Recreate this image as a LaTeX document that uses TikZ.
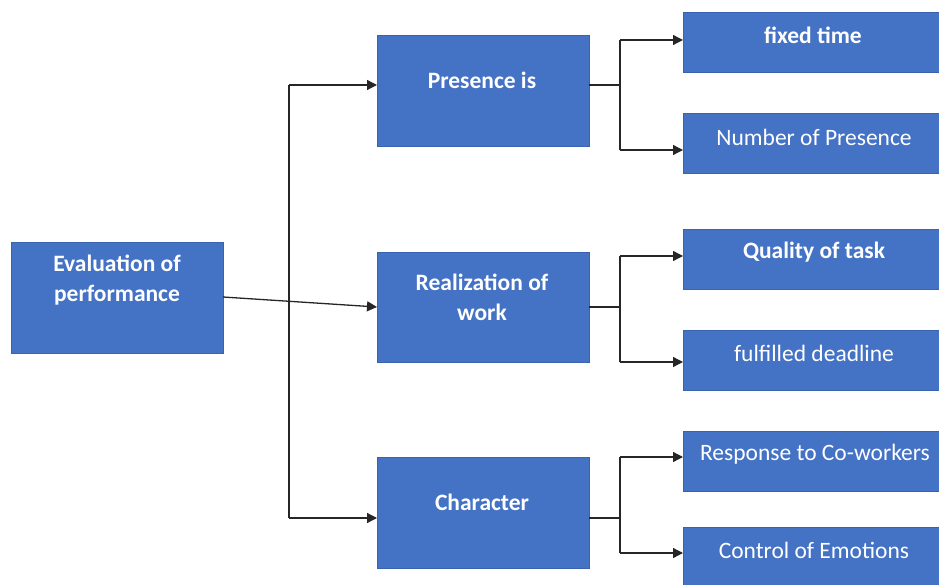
\documentclass[tikz,border=0pt]{standalone}
\usepackage{fontspec}
\setmainfont{Carlito}
\usetikzlibrary{arrows.meta}
\begin{document}
\begin{tikzpicture}[x=1pt,y=-1pt,
  box/.style={draw=boxedge,fill=boxfill,line width=0.8pt,inner sep=0pt},
  txt/.style={text=white,font=\fontsize{23.5}{30}\selectfont\bfseries,align=center,inner sep=0pt},
  txtr/.style={text=white,font=\fontsize{23.5}{30}\selectfont,align=center,inner sep=0pt},
  conn/.style={line width=1.3pt,draw=black!85},
  arr/.style={conn,-{Triangle[length=10pt,width=10pt]}}]
\definecolor{boxfill}{HTML}{4472C4}
\definecolor{boxedge}{HTML}{3A63AE}
\useasboundingbox (0,0) rectangle (939,585);
% boxes
\path[box] (11,242) rectangle (223,353) node[midway] (eval) {};
\path[box] (377,35) rectangle (589,146) node[midway] (pres) {};
\path[box] (377,252) rectangle (589,362) node[midway] (real) {};
\path[box] (377,457) rectangle (589,568) node[midway] (char) {};
\path[box] (683,12) rectangle (939,72) node[midway] (fix) {};
\path[box] (683,113) rectangle (939,173) node[midway] (num) {};
\path[box] (683,229) rectangle (939,289) node[midway] (qual) {};
\path[box] (683,330) rectangle (939,390) node[midway] (dead) {};
\path[box] (683,431) rectangle (939,491) node[midway] (resp) {};
\path[box] (683,527) rectangle (939,590) node[midway] (ctrl) {};
% texts
\node[txt] (t1) at (117,280) {Evaluation of\\performance};
\node[txt] (t2) at (482,80) {Presence is};
\node[txt] (t3) at (482,297) {Realization of\\work};
\node[txt] (t4) at (482,502) {Character};
\node[txt] (t5) at (813,35) {fixed time};
\node[txtr] (t6) at (814,137) {Number of Presence};
\node[txt] (t7) at (814,252) {Quality of task};
\node[txtr] (t8) at (814,353) {fulfilled deadline};
\node[txtr] (t9) at (815,454) {Response to Co-workers};
\node[txtr] (t10) at (814,550) {Control of Emotions};
% coordinates
\coordinate (a) at (289,85);
\coordinate (b) at (289,518);
\coordinate (p1) at (620,85);
\coordinate (p2) at (620,307);
\coordinate (p3) at (620,518);
% left connectors
\draw[arr] (223,297) -- (377,307);
\draw[conn] (a) -- (b);
\draw[arr] (a) -- (377,85);
\draw[arr] (b) -- (377,518);
% right groups
\draw[conn] (589,85) -- (p1);
\draw[arr] (620,40) -- (683,40);
\draw[arr] (620,150) -- (683,150);
\draw[conn] (620,40) -- (620,150);
\draw[conn] (589,307) -- (p2);
\draw[conn] (620,256) -- (620,362);
\draw[arr] (620,256) -- (683,256);
\draw[arr] (620,362) -- (683,362);
\draw[conn] (589,518) -- (p3);
\draw[conn] (620,457) -- (620,553);
\draw[arr] (620,457) -- (683,457);
\draw[arr] (620,553) -- (683,553);
\end{tikzpicture}
\end{document}
